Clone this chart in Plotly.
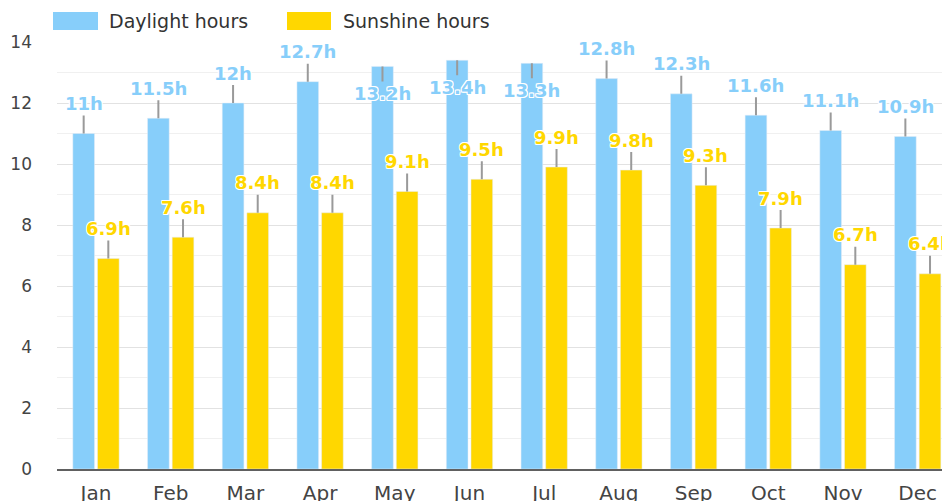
import plotly.graph_objects as go

# ---- data ----
months = ["Jan", "Feb", "Mar", "Apr", "May", "Jun", "Jul", "Aug", "Sep", "Oct", "Nov", "Dec"]
daylight = [11.0, 11.5, 12.0, 12.7, 13.2, 13.4, 13.3, 12.8, 12.3, 11.6, 11.1, 10.9]
sunshine = [6.9, 7.6, 8.4, 8.4, 9.1, 9.5, 9.9, 9.8, 9.3, 7.9, 6.7, 6.4]
daylight_label = ["11h", "11.5h", "12h", "12.7h", "13.2h", "13.4h", "13.3h", "12.8h", "12.3h", "11.6h", "11.1h", "10.9h"]
sunshine_label = ["6.9h", "7.6h", "8.4h", "8.4h", "9.1h", "9.5h", "9.9h", "9.8h", "9.3h", "7.9h", "6.7h", "6.4h"]
series_names = ["Daylight hours", "Sunshine hours"]
y_ticks = [0, 2, 4, 6, 8, 10, 12, 14]

# ---- style ----
DAY_C = "#87CEFA"
SUN_C = "#FFD700"
FONT = "DejaVu Sans"
PAGE_OFF = 8  # default page body margin
W, H = 950 - PAGE_OFF, 501 - PAGE_OFF
ML, MR, MT, MB = 57 - PAGE_OFF, 0, 42 - PAGE_OFF, 32
BAR_W = 0.29
OFFS = [-0.31, 0.02]
FLIP_ABOVE = 13.0  # labels above this value are placed inside (no room above)

xs = list(range(len(months)))

fig = go.Figure()
fig.add_trace(go.Bar(x=xs, y=daylight, name=series_names[0], marker_color=DAY_C,
                     width=BAR_W, offset=OFFS[0], showlegend=False))
fig.add_trace(go.Bar(x=xs, y=sunshine, name=series_names[1], marker_color=SUN_C,
                     width=BAR_W, offset=OFFS[1], showlegend=False))

halo = ("1px 1px 0 #fff, -1px -1px 0 #fff, 1px -1px 0 #fff, -1px 1px 0 #fff, "
        "0 1px 0 #fff, 0 -1px 0 #fff, 1px 0 0 #fff, -1px 0 0 #fff")

annotations = []
for vals, labels, off, col in [(daylight, daylight_label, OFFS[0], DAY_C),
                               (sunshine, sunshine_label, OFFS[1], SUN_C)]:
    for i, (v, t) in enumerate(zip(vals, labels)):
        ay = 27 if v > FLIP_ABOVE else -30
        annotations.append(dict(
            x=i + off + BAR_W / 2, y=v, xref="x", yref="y", text=t,
            showarrow=True, arrowhead=0, arrowwidth=2, arrowcolor="#9a9a9a",
            ax=0, ay=ay, standoff=0,
            font=dict(family=FONT, size=18, color=col, weight="bold", shadow=halo),
        ))

# ---- manual legend (wide swatches), positions in window pixels ----
pw = W - ML - MR
ph = H - MT - MB
def pxx(p):
    return (p - PAGE_OFF - ML) / pw
def pxy(p):
    return (H - MB - (p - PAGE_OFF)) / ph

shapes = []
for (x0, x1, tx), name, col in zip([(53, 98, 107), (287, 331, 341)], series_names, [DAY_C, SUN_C]):
    shapes.append(dict(type="rect", xref="paper", yref="paper",
                       x0=pxx(x0), x1=pxx(x1), y0=pxy(30), y1=pxy(12),
                       fillcolor=col, line=dict(width=0)))
    annotations.append(dict(x=pxx(tx), y=pxy(21), xref="paper", yref="paper",
                            text=name, showarrow=False, xanchor="left", yanchor="middle",
                            font=dict(family=FONT, size=19, color="#333")))

cat_px = 74.7
fig.update_layout(
    width=W, height=H,
    margin=dict(l=ML, r=MR, t=MT, b=MB, autoexpand=False),
    paper_bgcolor="white", plot_bgcolor="white",
    barmode="overlay",
    annotations=annotations, shapes=shapes,
    xaxis=dict(
        tickmode="array", tickvals=xs, ticktext=months,
        range=[-0.522, -0.522 + pw / cat_px],
        showgrid=False, zeroline=False,
        showline=True, linecolor="#606060", linewidth=2,
        ticks="", tickfont=dict(family=FONT, size=20, color="#444"),
        ticklabelstandoff=5, automargin=False,
    ),
    yaxis=dict(
        range=[0, 14], tickmode="array", tickvals=y_ticks,
        showgrid=True, gridcolor="#e2e2e2", gridwidth=1,
        minor=dict(dtick=1, showgrid=True, gridcolor="#f0f0f0", gridwidth=1),
        zeroline=False, showline=False, ticks="",
        tickfont=dict(family=FONT, size=17, color="#444"),
        ticklabelstandoff=24, automargin=False,
    ),
)

fig.write_html("out.html")
